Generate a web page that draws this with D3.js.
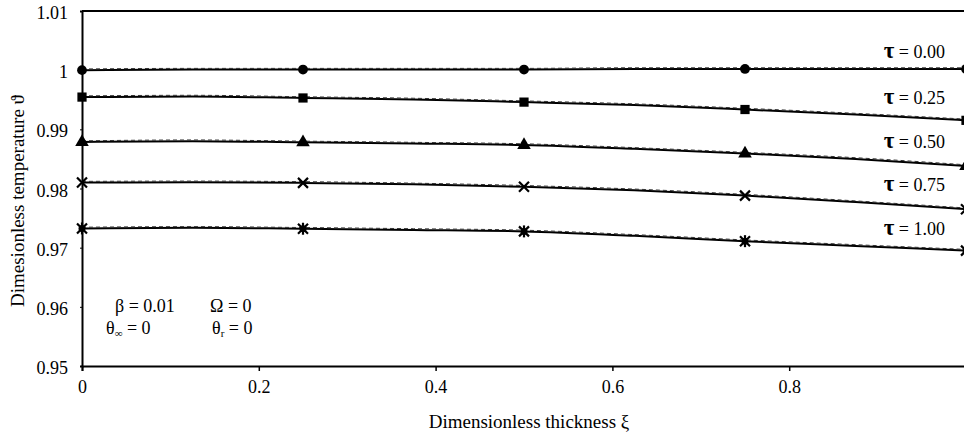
<!DOCTYPE html>
<html>
<head>
<meta charset="utf-8">
<script src="https://cdn.jsdelivr.net/npm/d3@7"></script>
<style>
  body { margin: 0; background: #fff; }
  text { font-family: 'Liberation Serif', 'DejaVu Serif', serif !important; }
</style>
</head>
<body>
<div id="chart"></div>
<script>
// Données
const xi = [0, 0.125, 0.25, 0.375, 0.5, 0.625, 0.75, 0.875, 1.0];
const tauLabels = ["0.00", "0.25", "0.50", "0.75", "1.00"];
const theta000 = [1.0000, 1.0001, 1.0001, 1.0001, 1.0001, 1.0002, 1.0002, 1.0002, 1.0002];
const theta025 = [0.99545, 0.99555, 0.9953, 0.99505, 0.9946, 0.9941, 0.99335, 0.9925, 0.99152];
const theta050 = [0.98785, 0.9880, 0.9878, 0.9876, 0.98735, 0.9867, 0.9859, 0.9850, 0.9838];
const theta075 = [0.9810, 0.98105, 0.98095, 0.9807, 0.9803, 0.9797, 0.9788, 0.9777, 0.9765];
const theta100 = [0.97325, 0.97335, 0.9732, 0.9730, 0.97275, 0.9720, 0.9711, 0.9703, 0.9695];
const markerX = [0, 0.25, 0.5, 0.75, 1.0];
const xTicks = [0, 0.2, 0.4, 0.6, 0.8];
const yTicks = [0.95, 0.96, 0.97, 0.98, 0.99, 1, 1.01];

const series = [theta000, theta025, theta050, theta075, theta100];
const shapes = ["circle", "square", "triangle", "cross", "star"];

const width = 964, height = 435;
const svg = d3.select('#chart').append('svg')
    .attr('width', width).attr('height', height);

const x = d3.scaleLinear().domain([0, 1]).range([82, 966]);
const y = d3.scaleLinear().domain([0.95, 1.01]).range([366, 11]);

// Axes
svg.append('g')
    .attr('transform', `translate(0,${y(0.95)})`)
    .call(d3.axisBottom(x).tickValues(xTicks).tickSize(5).tickPadding(9)
        .tickFormat(d => d === 0 ? "0" : d3.format(".1f")(d)))
    .attr('font-size', 18)
    .call(g => g.select('.domain').attr('stroke-width', 2))
    .call(g => g.selectAll('.tick line').attr('stroke-width', 1.5));

svg.append('g')
    .attr('transform', `translate(${x(0)},0)`)
    .call(d3.axisLeft(y).tickValues(yTicks).tickSize(2).tickPadding(12)
        .tickFormat(d => d === 1 ? "1" : d3.format(".2f")(d)))
    .attr('font-size', 18)
    .call(g => g.select('.domain').attr('stroke-width', 2))
    .call(g => g.selectAll('text').attr('dy', '0.42em'));

// Bordure du haut
svg.append('line')
    .attr('x1', x(0)).attr('x2', width)
    .attr('y1', y(1.01)).attr('y2', y(1.01))
    .attr('stroke', '#000').attr('stroke-width', 2);

const line = d3.line()
    .x((d, i) => x(xi[i]))
    .y(d => y(d))
    .curve(d3.curveMonotoneX);

// Courbes : trait plein + tirets
series.forEach(s => {
    svg.append('path').attr('d', line(s))
        .attr('fill', 'none').attr('stroke', '#000').attr('stroke-width', 2);
    svg.append('path').attr('d', line(s))
        .attr('transform', 'translate(0,-1.2)')
        .attr('fill', 'none').attr('stroke', '#333').attr('stroke-width', 1)
        .attr('stroke-dasharray', '4,3');
});

// Marqueurs
const sym = {
    circle: d3.symbol().type(d3.symbolCircle).size(75),
    square: d3.symbol().type(d3.symbolSquare).size(85),
    triangle: d3.symbol().type(d3.symbolTriangle).size(80)
};
series.forEach((s, k) => {
    const pts = markerX.map(mx => ({ x: mx, v: s[xi.indexOf(mx)] }));
    const g = svg.append('g');
    pts.forEach(p => {
        const cx = x(p.x), cy = y(p.v);
        const shape = shapes[k];
        if (sym[shape]) {
            g.append('path').attr('d', sym[shape]())
                .attr('transform', `translate(${cx},${cy})`).attr('fill', '#000');
        } else {
            const r = 5;
            g.append('path')
                .attr('d', `M${cx - r},${cy - r}L${cx + r},${cy + r}M${cx - r},${cy + r}L${cx + r},${cy - r}`)
                .attr('stroke', '#000').attr('stroke-width', 2.2);
            if (shape === 'star') {
                g.append('path')
                    .attr('d', `M${cx},${cy - r - 1}L${cx},${cy + r + 1}`)
                    .attr('stroke', '#000').attr('stroke-width', 2.2);
                g.append('circle').attr('cx', cx).attr('cy', cy).attr('r', 3.5).attr('fill', '#000');
            }
        }
    });
});

// Étiquettes τ
series.forEach((s, k) => {
    const t = svg.append('text')
        .attr('x', 945).attr('y', y(s[7]) - 11)
        .attr('text-anchor', 'end')
        .attr('font-size', 18);
    t.append('tspan').text('τ').attr('font-size', 23).attr('font-weight', 'bold');
    t.append('tspan').text(' = ' + tauLabels[k]);
});

// Paramètres
const params = svg.append('g').attr('font-size', 18);
params.append('text').attr('x', 115).attr('y', 312).text('β = 0.01');
params.append('text').attr('x', 210).attr('y', 312).text('Ω = 0');
const t1 = params.append('text').attr('x', 106).attr('y', 334);
t1.append('tspan').text('θ');
t1.append('tspan').text('∞').attr('font-size', 11).attr('dy', 3);
t1.append('tspan').text(' = 0').attr('dy', -3);
const t2 = params.append('text').attr('x', 212).attr('y', 334);
t2.append('tspan').text('θ');
t2.append('tspan').text('r').attr('font-size', 11).attr('dy', 3);
t2.append('tspan').text(' = 0').attr('dy', -3);

// Titres des axes
svg.append('text')
    .attr('x', 529).attr('y', 428)
    .attr('text-anchor', 'middle')
    .attr('font-size', 19)
    .text('Dimensionless thickness ξ');

svg.append('text')
    .attr('transform', `translate(24,201) rotate(-90)`)
    .attr('text-anchor', 'middle')
    .attr('font-size', 19)
    .text('Dimesionless temperature ϑ');
</script>
</body>
</html>
